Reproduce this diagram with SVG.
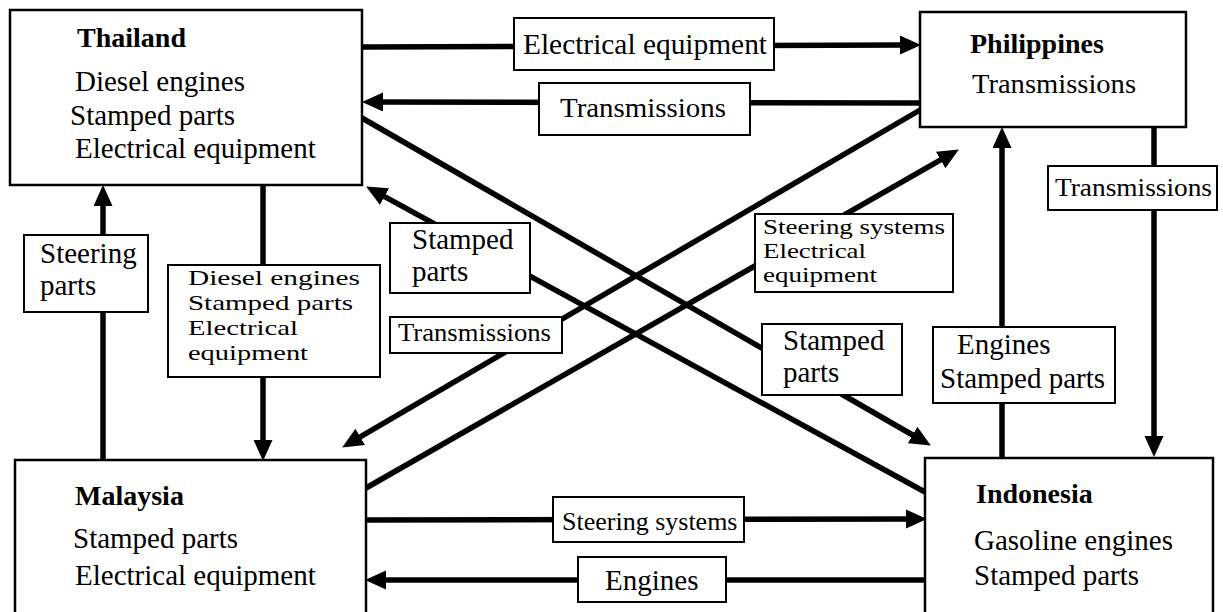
<svg xmlns="http://www.w3.org/2000/svg" width="1223" height="612" viewBox="0 0 1223 612" font-family="Liberation Serif, Times New Roman, serif">
<style>
text{font-family:"Liberation Serif","Times New Roman",serif;fill:#000}
.title{font-weight:bold;font-size:28px}
.item{font-size:29px}
.node{fill:#fff;stroke:#000;stroke-width:2.5}
.lab{fill:#fff;stroke:#000;stroke-width:2}
.c{stroke:#000;stroke-width:5.5;fill:none}
.a{marker-end:url(#ah)}
</style>
<defs>
<marker id="ah" markerUnits="userSpaceOnUse" markerWidth="22" markerHeight="20" refX="4" refY="9.5" orient="auto" viewBox="0 0 22 20">
<path d="M0,0 L21,9.5 L0,19 Z" fill="#000"/>
</marker>
</defs>
<rect width="1223" height="612" fill="#fff"/>
<g id="connectors">
<line class="c a" x1="362" y1="47" x2="904" y2="45"/>
<line class="c a" x1="920" y1="103" x2="379" y2="102"/>
<line class="c a" x1="263" y1="185" x2="263" y2="444"/>
<line class="c a" x1="103" y1="460" x2="103" y2="202"/>
<line class="c a" x1="1154" y1="127" x2="1154" y2="440"/>
<line class="c a" x1="1002" y1="458" x2="1002" y2="144"/>
<line class="c a" x1="366" y1="520" x2="910" y2="519"/>
<line class="c a" x1="925" y1="580" x2="382" y2="580"/>
<line class="c a" x1="362" y1="118" x2="916.1" y2="437"/>
<line class="c a" x1="925" y1="492" x2="381" y2="194.7"/>
<line class="c a" x1="920" y1="110" x2="356.8" y2="438.9"/>
<line class="c a" x1="366" y1="488" x2="944.1" y2="157.9"/>
</g>
<g id="labels">
<g id="lab-elec-top"><rect class="lab" x="514" y="18" width="260" height="52"/><text class="item" x="523" y="54" textLength="244" lengthAdjust="spacingAndGlyphs">Electrical equipment</text></g>
<g id="lab-trans-top"><rect class="lab" x="539" y="83" width="211" height="52"/><text x="560" y="117" font-size="27" textLength="166" lengthAdjust="spacingAndGlyphs">Transmissions</text></g>
<g id="lab-diesel"><rect class="lab" x="168" y="265" width="212" height="112"/>
<text x="188" y="285" font-size="22" textLength="172" lengthAdjust="spacingAndGlyphs">Diesel engines</text>
<text x="188" y="310" font-size="22" textLength="165" lengthAdjust="spacingAndGlyphs">Stamped parts</text>
<text x="188" y="335" font-size="22" textLength="110" lengthAdjust="spacingAndGlyphs">Electrical</text>
<text x="188" y="360" font-size="22" textLength="120" lengthAdjust="spacingAndGlyphs">equipment</text></g>
<g id="lab-steering-parts"><rect class="lab" x="24" y="235" width="124" height="77"/><text class="item" x="40" y="263">Steering</text><text class="item" x="40" y="295">parts</text></g>
<g id="lab-stamped-left"><rect class="lab" x="390" y="223" width="140" height="70"/><text class="item" x="412" y="249">Stamped</text><text class="item" x="412" y="281">parts</text></g>
<g id="lab-trans-left"><rect class="lab" x="390" y="317" width="172" height="36"/><text x="398" y="341" font-size="25" textLength="153" lengthAdjust="spacingAndGlyphs">Transmissions</text></g>
<g id="lab-steer-elec"><rect class="lab" x="755" y="214" width="198" height="78"/>
<text x="763" y="234" font-size="21" textLength="182" lengthAdjust="spacingAndGlyphs">Steering systems</text>
<text x="763" y="258" font-size="21" textLength="103" lengthAdjust="spacingAndGlyphs">Electrical</text>
<text x="763" y="282" font-size="21" textLength="114" lengthAdjust="spacingAndGlyphs">equipment</text></g>
<g id="lab-stamped-right"><rect class="lab" x="762" y="324" width="140" height="71"/><text class="item" x="783" y="350">Stamped</text><text class="item" x="783" y="382">parts</text></g>
<g id="lab-engines-stamped"><rect class="lab" x="933" y="327" width="182" height="76"/><text class="item" x="957" y="354">Engines</text><text class="item" x="940" y="388">Stamped parts</text></g>
<g id="lab-trans-right"><rect class="lab" x="1048" y="166" width="169" height="44"/><text x="1055" y="196" font-size="26" textLength="157" lengthAdjust="spacingAndGlyphs">Transmissions</text></g>
<g id="lab-steer-bottom"><rect class="lab" x="553" y="497" width="191" height="45"/><text x="562" y="530" font-size="26">Steering systems</text></g>
<g id="lab-engines-bottom"><rect class="lab" x="578" y="557" width="148" height="45"/><text class="item" x="605" y="590">Engines</text></g>
</g>
<g id="thailand"><rect class="node" x="10" y="10" width="352" height="175"/><text class="title" x="77" y="47">Thailand</text><text class="item" x="75" y="91">Diesel engines</text><text class="item" x="70" y="125">Stamped parts</text><text class="item" x="75" y="158">Electrical equipment</text></g>
<g id="philippines"><rect class="node" x="920" y="12" width="266" height="115"/><text class="title" x="970" y="53">Philippines</text><text x="972" y="93" font-size="27" textLength="164" lengthAdjust="spacingAndGlyphs">Transmissions</text></g>
<g id="malaysia"><rect class="node" x="15" y="460" width="351" height="156"/><text class="title" x="75" y="505">Malaysia</text><text class="item" x="73" y="548">Stamped parts</text><text class="item" x="75" y="585">Electrical equipment</text></g>
<g id="indonesia"><rect class="node" x="925" y="458" width="288" height="158"/><text class="title" x="976" y="503">Indonesia</text><text class="item" x="974" y="550">Gasoline engines</text><text class="item" x="974" y="585">Stamped parts</text></g>
</svg>
